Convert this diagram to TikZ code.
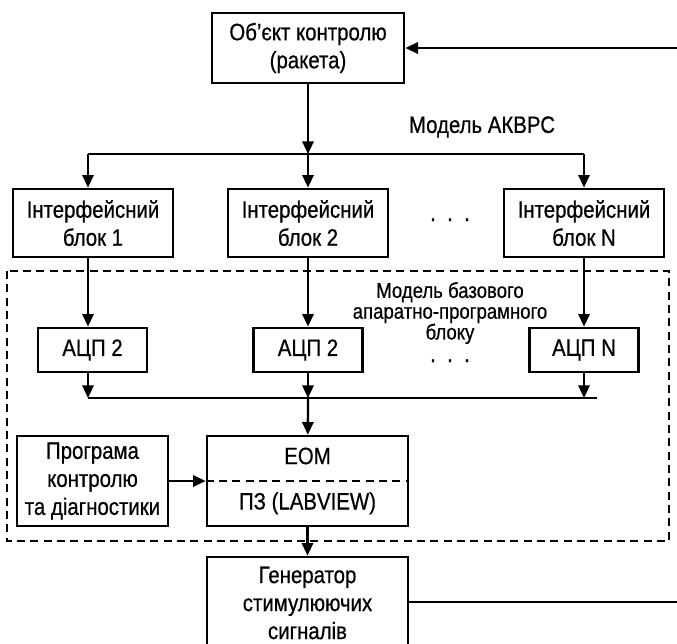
\documentclass[tikz,border=0pt]{standalone}
\usepackage{fontspec}
\setmainfont{Liberation Sans}[FakeStretch=0.86, FakeBold=0.6]
\usetikzlibrary{arrows.meta}

\begin{document}
\begin{tikzpicture}[x=0.75pt,y=-0.75pt]
        \useasboundingbox (0,0) rectangle (677,643);

        \draw [line width=1.4pt, dash pattern=on 6pt off 4pt] (7,271) rectangle (669,541);

        \begin{scope}[every node/.style={draw, line width=2pt, align=center, inner sep=0pt, font=\fontsize{17.8}{21}\selectfont}]
        \node [minimum width=144pt, minimum height=52.5pt] (obj) at (308,48) {Об’єкт контролю\\(ракета)};
        \node [minimum width=120pt, minimum height=51pt] (if1) at (93,223) {Інтерфейсний\\блок 1};
        \node [minimum width=120pt, minimum height=51pt] (if2) at (308,223) {Інтерфейсний\\блок 2};
        \node [minimum width=120pt, minimum height=51pt] (ifN) at (584,223) {Інтерфейсний\\блок N};
        \node [minimum width=81.75pt, minimum height=33pt] (adc1) at (92.5,350) {АЦП 2};
        \node [minimum width=81.75pt, minimum height=33pt] (adc2) at (308,350) {АЦП 2};
        \node [minimum width=81.75pt, minimum height=33pt] (adcN) at (584,350) {АЦП N};
        \node [minimum width=113.25pt, minimum height=67.5pt] (prog) at (92.5,481) {Програма\\контролю\\та діагностики};
        \node [minimum width=150.75pt, minimum height=67.5pt] (eom) at (307.5,481) {ЕОМ\\[13pt]ПЗ (LABVIEW)};
        \node [minimum width=150.75pt, minimum height=69pt] (gen) at (307.5,603) {Генератор\\стимулюючих\\сигналів};
        \end{scope}

        \draw [line width=1.4pt, dash pattern=on 6pt off 4pt] (eom.west) -- (eom.east);

        \begin{scope}[every node/.style={inner sep=0pt, font=\fontsize{17.8}{21}\selectfont}]
        \node (akvrs) at (482,127) {Модель АКВРС};
        \node [align=center, font=\fontsize{16.2}{15.6}\selectfont] (base) at (450,313) {Модель базового\\апаратно-програмного\\блоку};
        \node [anchor=base, text height=3pt, text depth=0pt] (dots1) at (450,221) {.\ \ .\ \ .};
        \node [anchor=base, text height=3pt, text depth=0pt] (dots2) at (450,362) {.\ \ .\ \ .};
        \end{scope}

        \coordinate (bl) at (88,154);
        \coordinate (bm) at (308,154);
        \coordinate (bn) at (584,154);
        \coordinate (sl) at (88,398);
        \coordinate (sm) at (308,398);
        \coordinate (sn) at (584,398);
        \coordinate (se) at (597,398);
        \coordinate (fbt) at (677,48);
        \coordinate (fbg) at (677,602);

        \begin{scope}[line width=1.7pt, >={Triangle[length=9.5pt,width=8.5pt]}]
        \path [->] (obj) edge (bm);
        \draw (bl) -- (bn);
        \path [->] (bl) edge (bl |- if1.north);
        \path [->] (bm) edge (if2);
        \path [->] (bn) edge (ifN);
        \path [->] (bl |- if1.south) edge (bl |- adc1.north);
        \path [->] (if2) edge (adc2);
        \path [->] (ifN) edge (adcN);
        \path [->] (bl |- adc1.south) edge (sl);
        \path [->] (adc2) edge (sm);
        \path [->] (adcN) edge (sn);
        \draw (sl) -- (se);
        \path [->] (sm) edge (eom);
        \path [->] (prog) edge (eom);
        \path [->] (eom) edge (gen);
        \draw (gen.east |- fbg) -- (fbg);
        \path [->] (fbt) edge (obj);
        \end{scope}
    \end{tikzpicture}
\end{document}
